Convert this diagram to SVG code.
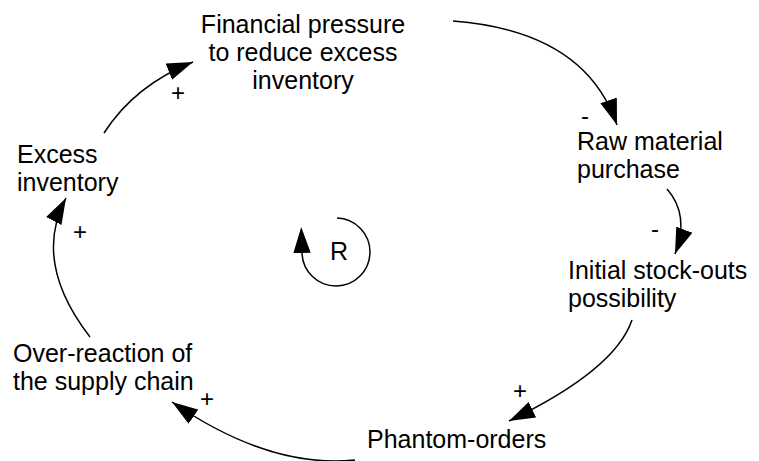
<svg xmlns="http://www.w3.org/2000/svg" width="759" height="461" viewBox="0 0 759 461">
<style>
.t{font-family:"Liberation Sans",Arial,Helvetica,sans-serif;font-size:25px;fill:#000}
.s{font-family:"Liberation Sans",Arial,Helvetica,sans-serif;font-size:24px;fill:#000;text-anchor:middle}
.c{fill:none;stroke:#000;stroke-width:1.5}
</style>
<defs>
<marker id="ah" markerUnits="userSpaceOnUse" markerWidth="26" markerHeight="18" viewBox="0 0 24 16" refX="24" refY="8" orient="auto">
<path d="M0,0 L24,8 L0,16 Z" fill="#000"/>
</marker>
<marker id="ah0" markerUnits="userSpaceOnUse" markerWidth="26" markerHeight="18" viewBox="0 0 24 16" refX="0" refY="8" orient="auto">
<path d="M0,0 L24,8 L0,16 Z" fill="#000"/>
</marker>
</defs>
<rect width="759" height="461" fill="#fff"/>
<g id="connectors">
<path class="c" d="M104,133 Q135,85 193,62" marker-end="url(#ah)"/>
<path class="c" d="M453,21 Q585,31 617,125" marker-end="url(#ah)"/>
<path class="c" d="M667,189 Q690,215 675,254" marker-end="url(#ah)"/>
<path class="c" d="M632,320 Q615,370 509,421" marker-end="url(#ah)"/>
<path class="c" d="M355,460 Q270,469 172,402" marker-end="url(#ah)"/>
<path class="c" d="M90,337 Q32,262 66,198" marker-end="url(#ah)"/>
<text class="s" x="178" y="101">+</text>
<text class="s" x="585" y="124">-</text>
<text class="s" x="655" y="237">-</text>
<text class="s" x="520" y="399">+</text>
<text class="s" x="207" y="407">+</text>
<text class="s" x="80" y="240">+</text>
</g>
<g id="loop">
<path class="c" d="M337,218 A34,34 0 1 1 302,253" marker-end="url(#ah0)"/>
<text class="t" x="339" y="260" text-anchor="middle">R</text>
</g>
<g id="financial">
<text class="t" text-anchor="middle"><tspan x="303" y="33">Financial pressure</tspan><tspan x="303" y="61">to reduce excess</tspan><tspan x="303" y="89">inventory</tspan></text>
</g>
<g id="raw">
<text class="t"><tspan x="577" y="150">Raw material</tspan><tspan x="577" y="178">purchase</tspan></text>
</g>
<g id="initial">
<text class="t"><tspan x="568" y="279">Initial stock-outs</tspan><tspan x="568" y="307">possibility</tspan></text>
</g>
<g id="phantom">
<text class="t" x="367" y="448">Phantom-orders</text>
</g>
<g id="overreaction">
<text class="t"><tspan x="13" y="362">Over-reaction of</tspan><tspan x="13" y="390">the supply chain</tspan></text>
</g>
<g id="excess">
<text class="t"><tspan x="17" y="163">Excess</tspan><tspan x="17" y="191">inventory</tspan></text>
</g>
</svg>
